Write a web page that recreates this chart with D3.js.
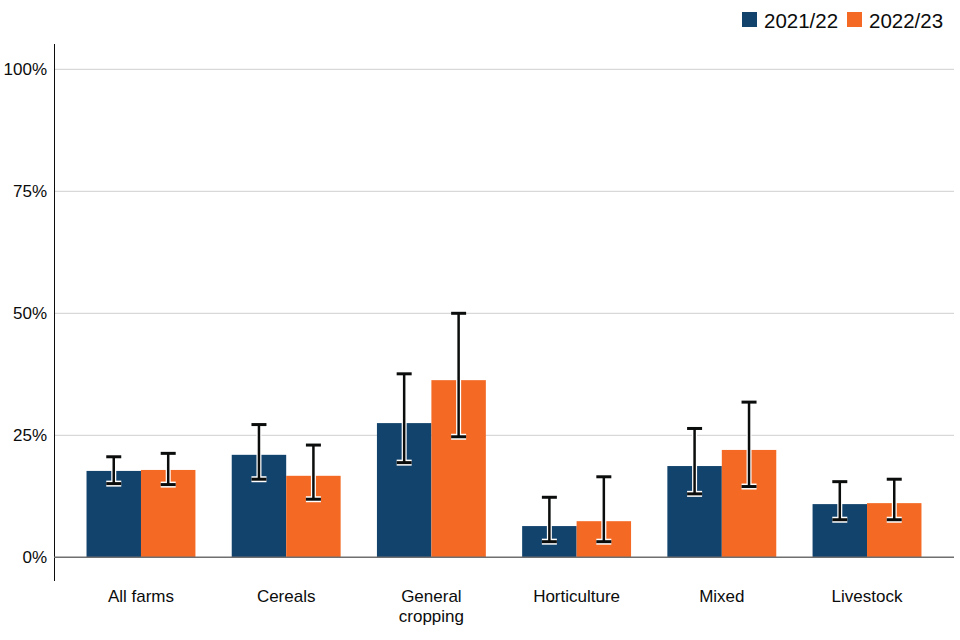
<!DOCTYPE html>
<html><head><meta charset="utf-8">
<script src="https://cdn.jsdelivr.net/npm/d3@7"></script>
<style>body{margin:0;background:#fff}svg{display:block}text{font-family:"Liberation Sans",Arial,sans-serif;fill:#0b0c0c}</style>
</head><body><svg id="c" width="960" height="640"></svg>
<script>
const categories = [["All farms"],["Cereals"],["General","cropping"],["Horticulture"],["Mixed"],["Livestock"]];
const seriesNames = ["2021/22","2022/23"];
const seriesColors = ["#12436D","#F46A25"];
const values2122 = [17.7, 21.0, 27.5, 6.4, 18.7, 10.9];
const low2122    = [15.1, 16.0, 19.4, 3.2, 13.0, 7.7];
const high2122   = [20.6, 27.2, 37.6, 12.3, 26.4, 15.5];
const values2223 = [17.9, 16.7, 36.3, 7.4, 22.0, 11.1];
const low2223    = [14.9, 11.9, 24.7, 3.2, 14.5, 7.7];
const high2223   = [21.3, 23.0, 50.0, 16.5, 31.8, 16.0];
const yTicks = [0, 25, 50, 75, 100];

const series = [
  {name: seriesNames[0], color: seriesColors[0], v: values2122, lo: low2122, hi: high2122},
  {name: seriesNames[1], color: seriesColors[1], v: values2223, lo: low2223, hi: high2223}
];
const keys = categories.map(c => c.join(" "));

const svg = d3.select("#c");
const pLeft = 54, pRight = 954, pTop = 44, zeroY = 557.3, topY = 69.3;
const y = d3.scaleLinear().domain([0, 100]).range([zeroY, topY]);
const x = d3.scaleBand().domain(keys).range([pLeft, pRight]).paddingInner(0.25).paddingOuter(0.224);
const xs = d3.scaleBand().domain(seriesNames).range([0, x.bandwidth()]);

// gridlines
svg.append("g").selectAll("line").data(yTicks.filter(t => t > 0)).join("line")
  .attr("x1", pLeft).attr("x2", pRight).attr("y1", d => y(d)).attr("y2", d => y(d))
  .attr("stroke", "#cfcfcf").attr("stroke-width", 1);

// y axis via d3.axisLeft
const ya = svg.append("g").attr("transform", `translate(${pLeft},0)`)
  .call(d3.axisLeft(y).tickValues(yTicks).tickFormat(d => d + "%").tickSize(0).tickPadding(7));
ya.select(".domain").remove();
ya.selectAll("text").attr("font-size", 17).attr("font-family", '"Liberation Sans",Arial,sans-serif').attr("fill", "#0b0c0c");
svg.append("line").attr("x1", pLeft + 0.5).attr("x2", pLeft + 0.5).attr("y1", pTop).attr("y2", 581)
  .attr("stroke", "#0b0c0c").attr("stroke-width", 1);

// bars
const g = svg.append("g");
series.forEach(s => {
  g.append("g").selectAll("rect").data(keys).join("rect")
    .attr("x", (k) => x(k) + xs(s.name))
    .attr("width", xs.bandwidth())
    .attr("y", (k, i) => y(s.v[i]))
    .attr("height", (k, i) => y(0) - y(s.v[i]))
    .attr("fill", s.color);
});

// zero line
svg.append("line").attr("x1", pLeft).attr("x2", pRight).attr("y1", y(0)).attr("y2", y(0))
  .attr("stroke", "#6f6f6f").attr("stroke-width", 1.6);

// error bars
const capW = 15;
series.forEach(s => {
  keys.forEach((k, i) => {
    const cx = x(k) + xs(s.name) + xs.bandwidth() / 2;
    const eg = svg.append("g");
    const draw = (stroke, w, capStroke) => {
      eg.append("line").attr("x1", cx).attr("x2", cx).attr("y1", y(s.hi[i])).attr("y2", y(s.lo[i]))
        .attr("stroke", stroke).attr("stroke-width", w);
      [s.hi[i], s.lo[i]].forEach(v => {
        eg.append("line").attr("x1", cx - capW / 2).attr("x2", cx + capW / 2).attr("y1", y(v)).attr("y2", y(v))
          .attr("stroke", stroke).attr("stroke-width", capStroke);
      });
    };
    draw("#ffffff", 5, 6);
    draw("#0b0c0c", 2.5, 3);
  });
});

// x labels
const xl = svg.append("g");
categories.forEach((lines, i) => {
  const cx = x(keys[i]) + x.bandwidth() / 2;
  const t = xl.append("text").attr("x", cx).attr("y", 602)
    .attr("text-anchor", "middle").attr("font-size", 17);
  lines.forEach((ln, j) => t.append("tspan").attr("x", cx).attr("dy", j ? 20 : 0).text(ln));
});

// legend
const lg = svg.append("g");
const legX = [742, 847];
series.forEach((s, i) => {
  lg.append("rect").attr("x", legX[i]).attr("y", 12).attr("width", 15).attr("height", 15).attr("fill", s.color);
  lg.append("text").attr("x", legX[i] + 22).attr("y", 27.5).attr("font-size", 20.5).text(s.name);
});
</script></body></html>
